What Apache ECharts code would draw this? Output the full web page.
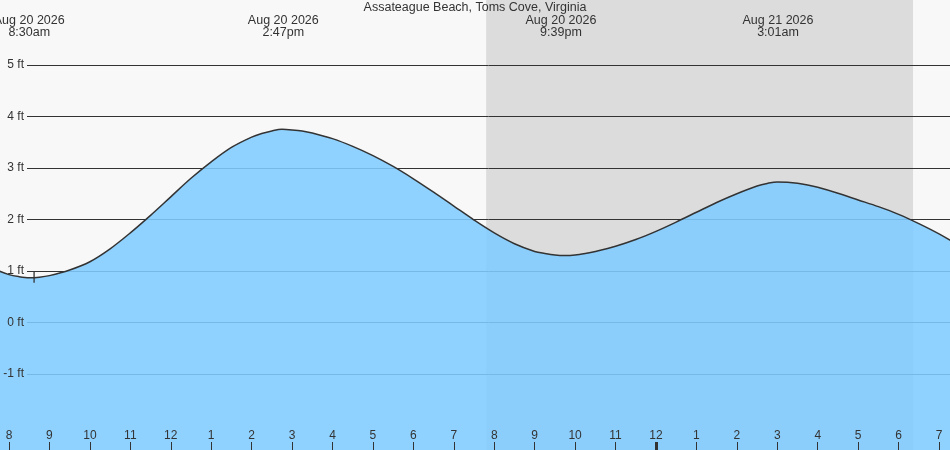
<!DOCTYPE html>
<html>
<head>
<meta charset="utf-8">
<script src="https://cdn.jsdelivr.net/npm/echarts@6/dist/echarts.min.js"></script>
<style>
html,body{margin:0;padding:0;background:#f8f8f8;}
#c{width:950px;height:450px;}
</style>
</head>
<body>
<div id="c"></div>
<script>
// Tide data: hours since midnight Aug 20 2026 (values > 24 are Aug 21)
const tideTimes = [7.5, 8.0, 8.25, 8.5, 8.75, 9.0, 9.5, 10.0, 10.5, 11.0, 11.5, 12.0, 12.5, 13.0, 13.5, 14.0, 14.25, 14.5, 14.75, 15.0, 15.25, 15.5, 16.0, 16.5, 17.0, 17.5, 18.0, 18.5, 19.0, 19.5, 20.0, 20.5, 21.0, 21.25, 21.5, 21.75, 22.0, 22.25, 22.5, 23.0, 23.5, 24.0, 24.5, 25.0, 25.5, 26.0, 26.5, 26.75, 27.0, 27.25, 27.5, 27.75, 28.0, 28.5, 29.0, 29.5, 30.0, 30.5, 31.0, 31.5];
const tideFeet  = [1.08, 0.93, 0.89, 0.87, 0.88, 0.91, 1.02, 1.18, 1.43, 1.74, 2.08, 2.44, 2.80, 3.12, 3.40, 3.60, 3.67, 3.72, 3.75, 3.74, 3.72, 3.68, 3.57, 3.42, 3.24, 3.03, 2.79, 2.53, 2.26, 1.99, 1.74, 1.53, 1.38, 1.34, 1.31, 1.30, 1.31, 1.34, 1.38, 1.48, 1.61, 1.77, 1.95, 2.14, 2.33, 2.50, 2.65, 2.70, 2.73, 2.725, 2.705, 2.67, 2.625, 2.51, 2.38, 2.25, 2.10, 1.92, 1.72, 1.49];

const eventTimes  = [8.5, 14.783, 21.65, 27.017];
const eventLabels = ['Aug 20 2026\n8:30am', 'Aug 20 2026\n2:47pm', 'Aug 20 2026\n9:39pm', 'Aug 21 2026\n3:01am'];

const hourTicks = [8,9,10,11,12,13,14,15,16,17,18,19,20,21,22,23,24,25,26,27,28,29,30,31];
const feetTicks = [-1, 0, 1, 2, 3, 4, 5];

const sunsetTime = 19.8;
const sunriseTime = 30.357;
const nowTime = 8.62;
const nowFeet = 0.88;

const xMin = 7.777, xMax = 31.271;
const yMin = -2.476, yMax = 6.262;
const gridStart = xMin + 27 * (xMax - xMin) / 950;

const series = tideTimes.map((t, i) => [t, tideFeet[i]]);
const fontFam = '"Liberation Sans", Arial, sans-serif';

const chart = echarts.init(document.getElementById('c'), null, {renderer: 'canvas'});
chart.setOption({
  animation: false,
  backgroundColor: '#f8f8f8',
  title: {
    text: 'Assateague Beach, Toms Cove, Virginia',
    left: 'center', top: 1, padding: 0,
    textStyle: {fontSize: 12.5, fontWeight: 'normal', color: '#333', fontFamily: fontFam}
  },
  grid: {left: 0, right: 0, top: 0, bottom: 0, containLabel: false, outerBoundsMode: 'none'},
  xAxis: [
    {
      type: 'value', min: xMin, max: xMax, position: 'bottom',
      axisLine: {show: false, onZero: false}, splitLine: {show: false},
      axisTick: {show: true, inside: true, length: 8, customValues: hourTicks, lineStyle: {color: '#333', width: 1}},
      axisLabel: {
        inside: true, margin: 8, customValues: hourTicks, color: '#333', fontSize: 12, fontFamily: fontFam,
        formatter: v => { const h = Math.round(v) % 12; return String(h === 0 ? 12 : h); }
      },
      z: 10
    },
    {
      type: 'value', min: xMin, max: xMax, position: 'top',
      axisLine: {show: false, onZero: false}, splitLine: {show: false}, axisTick: {show: false},
      axisLabel: {
        inside: true, margin: 15, customValues: eventTimes, color: '#333', fontSize: 12.5, fontFamily: fontFam,
        lineHeight: 12, align: 'center',
        formatter: v => { const i = eventTimes.findIndex(t => Math.abs(t - v) < 1e-6); return i >= 0 ? eventLabels[i] : ''; }
      },
      z: 10
    },
    {
      type: 'value', min: xMin, max: xMax, position: 'bottom',
      axisLine: {show: false, onZero: false}, splitLine: {show: false}, axisLabel: {show: false},
      axisTick: {show: true, inside: true, length: 8, customValues: [24], lineStyle: {color: '#333', width: 3}},
      z: 10
    }
  ],
  yAxis: {
    type: 'value', min: yMin, max: yMax,
    axisLine: {show: false, onZero: false}, splitLine: {show: false}, axisTick: {show: false},
    axisLabel: {
      inside: true, margin: 24, align: 'right', customValues: feetTicks, color: '#333', fontSize: 12, fontFamily: fontFam,
      formatter: v => Math.round(v) + ' ft'
    },
    z: 10
  },
  series: [
    {
      type: 'line', xAxisIndex: 0, data: series, symbol: 'none', z: 1,
      lineStyle: {opacity: 0},
      markArea: {
        silent: true, z: 0,
        itemStyle: {color: '#dcdcdc'},
        data: [[{xAxis: sunsetTime, yAxis: yMax}, {xAxis: sunriseTime, yAxis: yMin}]]
      },
      markLine: {
        silent: true, z: 1, symbol: ['none', 'none'], label: {show: false},
        lineStyle: {color: '#333', width: 1, type: 'solid'},
        data: feetTicks.map(f => [{coord: [gridStart, f]}, {coord: [xMax, f]}])
      }
    },
    {
      type: 'line', xAxisIndex: 0, data: series, symbol: 'none', smooth: 0.33, z: 3,
      lineStyle: {color: '#333', width: 1.5},
      areaStyle: {color: '#81ccff', opacity: 0.88, origin: 'start'},
      markPoint: {
        silent: true, z: 6,
        symbol: 'rect', symbolSize: [1.3, 11],
        itemStyle: {color: '#333'}, label: {show: false},
        data: [{coord: [nowTime, nowFeet]}]
      }
    }
  ]
});
</script>
</body>
</html>
